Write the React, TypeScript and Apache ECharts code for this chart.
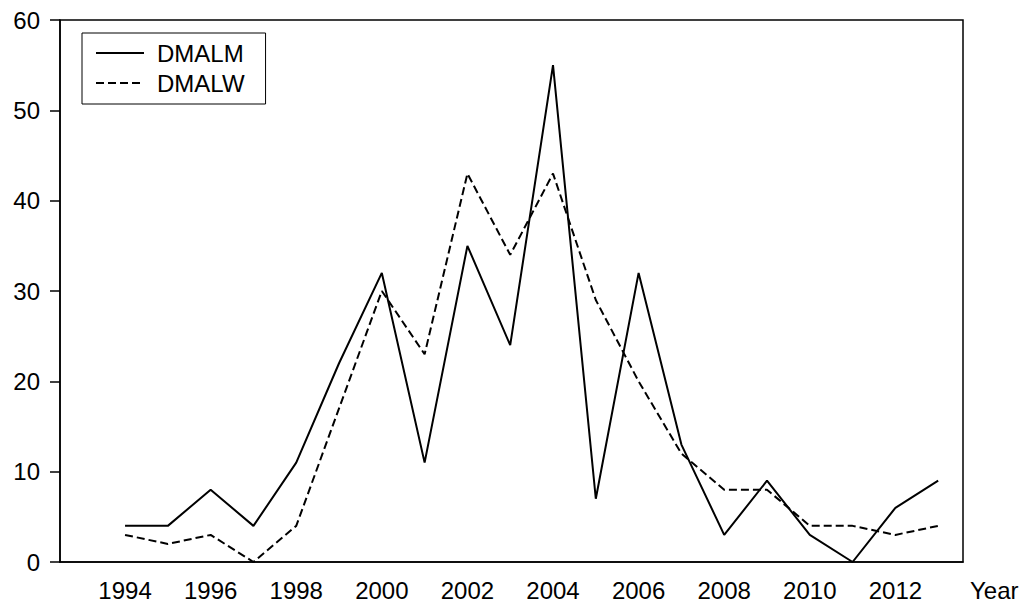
import React, { useEffect, useRef } from "react";
import * as echarts from "echarts";

const years = [1994, 1995, 1996, 1997, 1998, 1999, 2000, 2001, 2002, 2003, 2004, 2005, 2006, 2007, 2008, 2009, 2010, 2011, 2012, 2013];
const dmalm = [4, 4, 8, 4, 11, 22, 32, 11, 35, 24, 55, 7, 32, 13, 3, 9, 3, 0, 6, 9];
const dmalw = [3, 2, 3, 0, 4, 17, 30, 23, 43, 34, 43, 29, 20, 12, 8, 8, 4, 4, 3, 4];
const xTickLabels = [1994, 1996, 1998, 2000, 2002, 2004, 2006, 2008, 2010, 2012];
const yMin = 0;
const yMax = 60;
const yStep = 10;

const FONT = "'Liberation Sans', Arial, Helvetica, sans-serif";

export default function App() {
  const ref = useRef<HTMLDivElement>(null);
  useEffect(() => {
    if (!ref.current) return;
    const chart = echarts.init(ref.current, undefined, { renderer: "svg" });
    const pair = (vals: number[]) => years.map((y, i) => [y, vals[i]]);
    chart.setOption({
      animation: false,
      backgroundColor: "#ffffff",
      textStyle: { fontFamily: FONT, color: "#000" },
      grid: {
        left: 60,
        right: 62,
        top: 20,
        bottom: 46,
        show: true,
        borderColor: "#000",
        borderWidth: 1.5,
        backgroundColor: "transparent",
      },
      legend: {
        orient: "vertical",
        left: 82,
        top: 33,
        padding: [8, 21, 9, 13],
        itemWidth: 48,
        itemHeight: 24,
        itemGap: 6,
        borderColor: "#000",
        borderWidth: 1,
        backgroundColor: "#fff",
        selectedMode: false,
        itemStyle: { opacity: 0, borderWidth: 0 },
        textStyle: { fontSize: 24, fontFamily: FONT, color: "#000", padding: [0, 0, 0, 8] },
        data: ["DMALM", "DMALW"],
      },
      xAxis: {
        type: "value",
        min: 1992.48,
        max: 2013.58,
        name: "Year",
        nameLocation: "end",
        nameGap: 7,
        nameTextStyle: { fontSize: 24, fontFamily: FONT, color: "#000", verticalAlign: "top", padding: [16, 0, 0, 0] },
        axisLine: { show: true, onZero: false, lineStyle: { color: "#000", width: 1.5 } },
        axisTick: { show: false },
        splitLine: { show: false },
        axisLabel: {
          customValues: xTickLabels,
          fontSize: 24,
          fontFamily: FONT,
          color: "#000",
          margin: 16,
          formatter: (v: number) => String(v),
        },
      },
      yAxis: {
        type: "value",
        min: yMin,
        max: yMax,
        interval: yStep,
        axisLine: { show: true, onZero: false, lineStyle: { color: "#000", width: 1.5 } },
        axisTick: { show: true, inside: false, length: 10, lineStyle: { color: "#000", width: 1.5 } },
        splitLine: { show: false },
        axisLabel: { show: true, fontSize: 24, fontFamily: FONT, color: "#000", margin: 20, padding: [0, 0, 4, 0] },
      },
      series: [
        {
          name: "DMALM",
          type: "line",
          data: pair(dmalm),
          symbol: "none",
          lineStyle: { color: "#000", width: 2, type: "solid" },
          itemStyle: { color: "#000" },
        },
        {
          name: "DMALW",
          type: "line",
          data: pair(dmalw),
          symbol: "none",
          lineStyle: { color: "#000", width: 2, type: [8, 4] },
          itemStyle: { color: "#000" },
        },
      ],
    });
    return () => chart.dispose();
  }, []);
  return (
    <div
      ref={ref}
      style={{ position: "fixed", left: 0, top: 0, width: 1025, height: 608 }}
    />
  );
}
